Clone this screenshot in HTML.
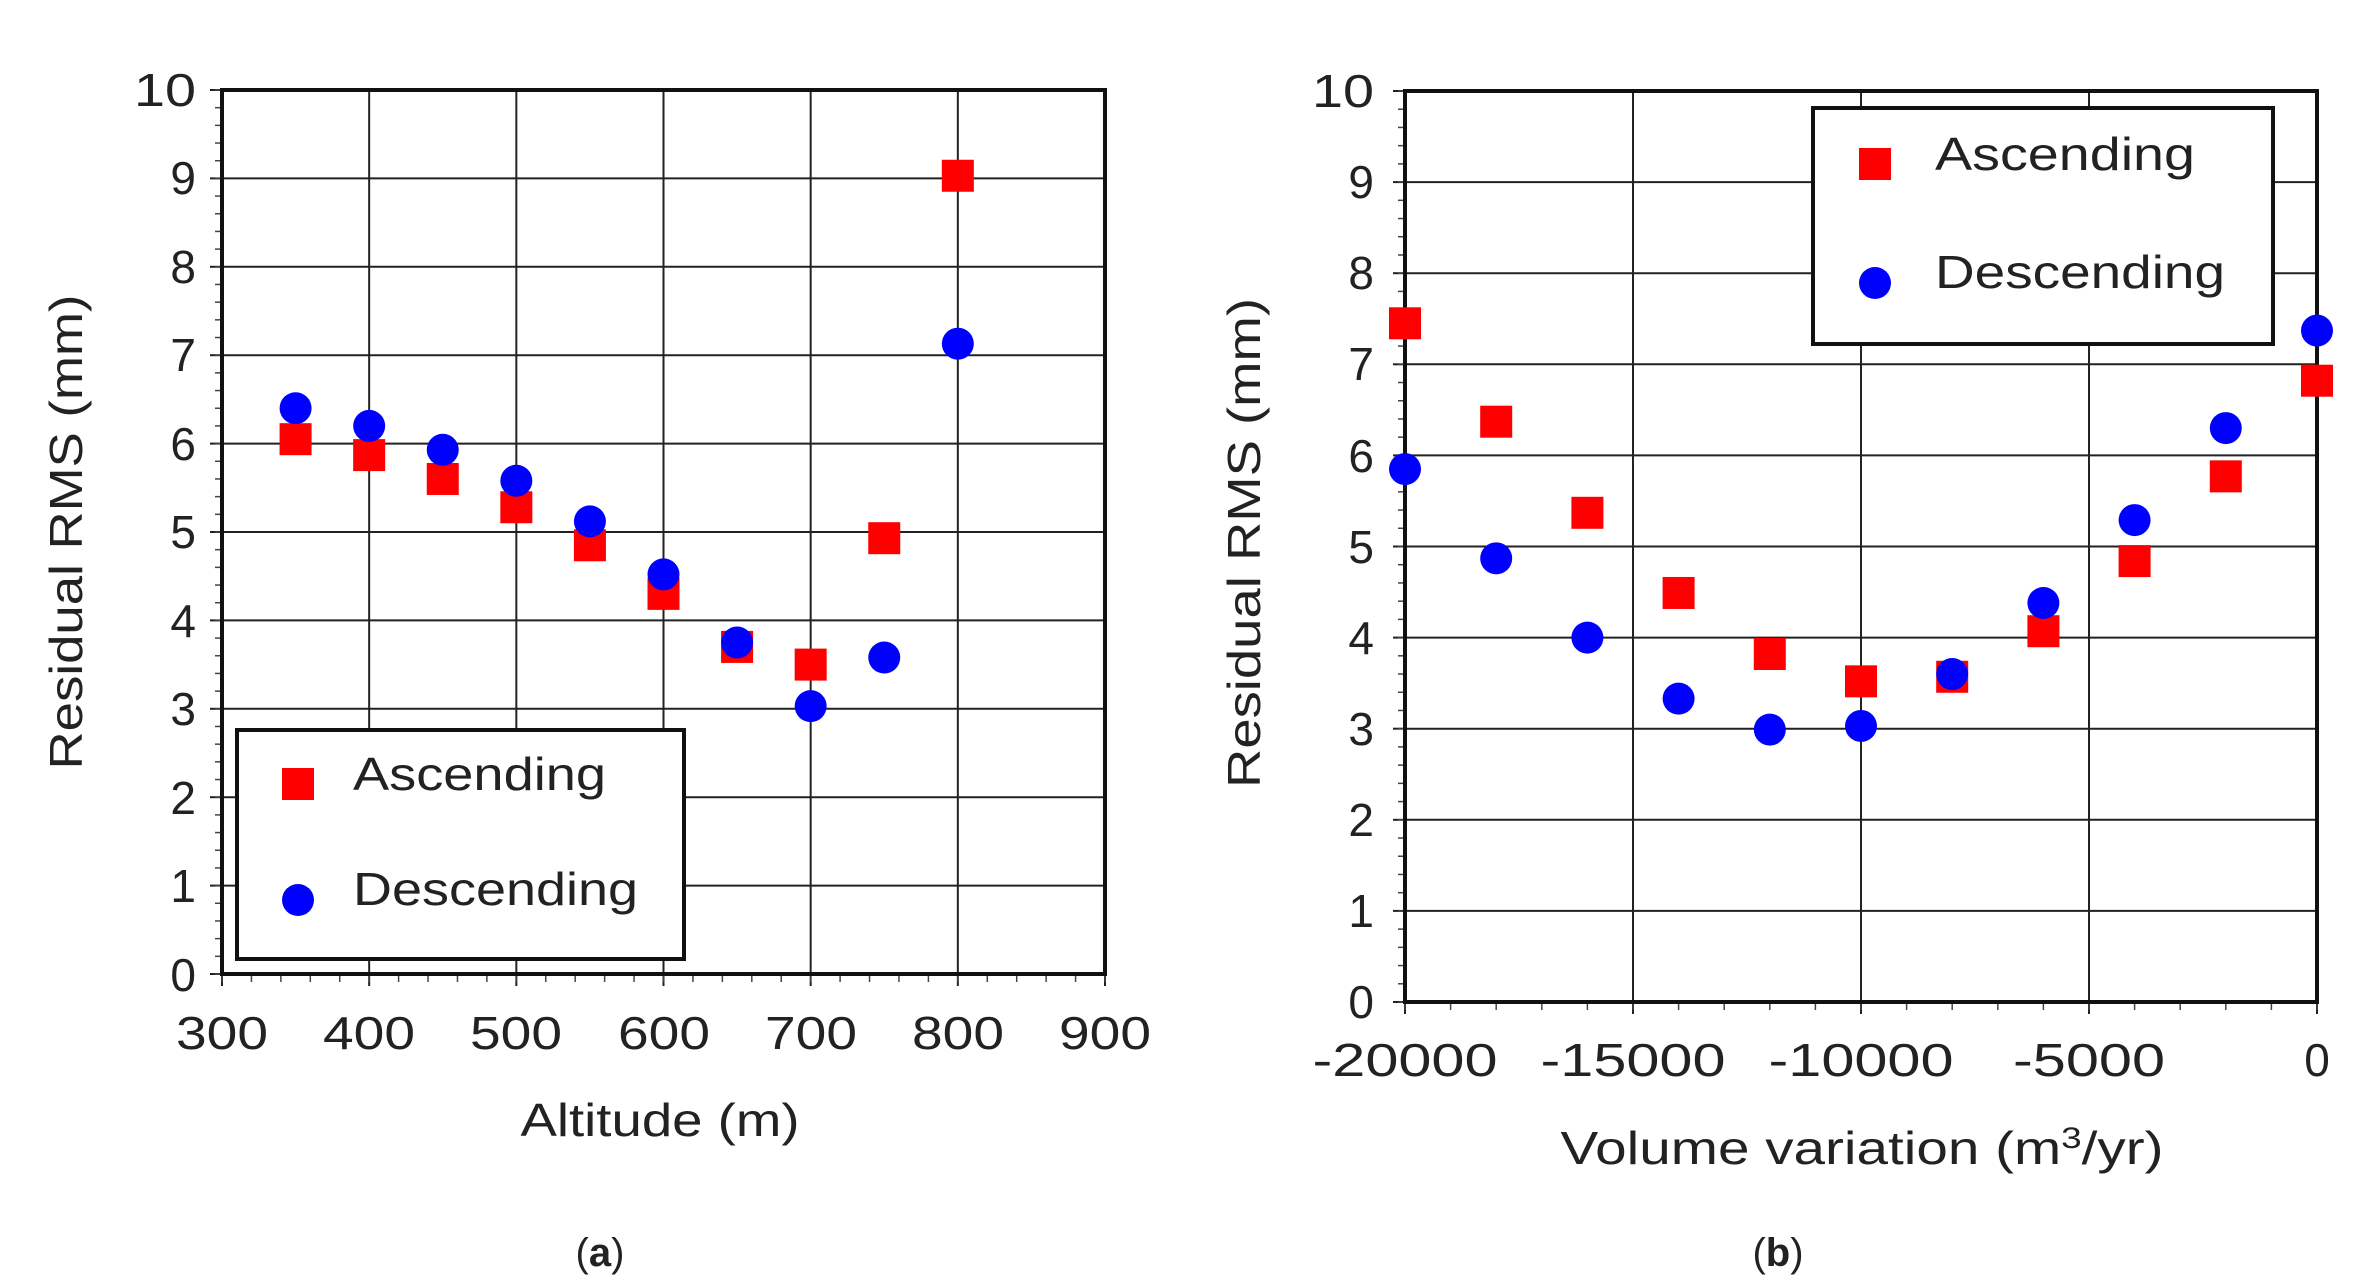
<!DOCTYPE html>
<html><head><meta charset="utf-8"><style>
html,body{margin:0;padding:0;background:#fff}
svg{display:block}
text{font-family:"Liberation Sans","Noto Sans CJK JP",sans-serif;fill:#222}
</style></head><body>
<svg id="s" width="2354" height="1285" viewBox="0 0 2354 1285" xmlns="http://www.w3.org/2000/svg">
<rect width="2354" height="1285" fill="#fff"/>
<g id="ga"></g><g id="gb"></g>
<!-- chart a labels -->
<g font-size="46" text-anchor="end" lengthAdjust="spacingAndGlyphs">
<text x="196" y="106" textLength="62" lengthAdjust="spacingAndGlyphs">10</text><text x="196" y="194">9</text><text x="196" y="283">8</text><text x="196" y="371">7</text><text x="196" y="460">6</text><text x="196" y="548">5</text><text x="196" y="637">4</text><text x="196" y="725">3</text><text x="196" y="814">2</text><text x="196" y="902">1</text><text x="196" y="991">0</text>
</g>
<g font-size="46" text-anchor="middle">
<text x="222" y="1049" textLength="92" lengthAdjust="spacingAndGlyphs">300</text><text x="369" y="1049" textLength="92" lengthAdjust="spacingAndGlyphs">400</text><text x="516" y="1049" textLength="92" lengthAdjust="spacingAndGlyphs">500</text><text x="664" y="1049" textLength="92" lengthAdjust="spacingAndGlyphs">600</text><text x="811" y="1049" textLength="92" lengthAdjust="spacingAndGlyphs">700</text><text x="958" y="1049" textLength="92" lengthAdjust="spacingAndGlyphs">800</text><text x="1105" y="1049" textLength="92" lengthAdjust="spacingAndGlyphs">900</text>
<text x="660" y="1136" textLength="279" lengthAdjust="spacingAndGlyphs">Altitude (m)</text>
<text x="600" y="1266" font-family="Liberation Serif" font-size="40">(<tspan font-weight="bold">a</tspan>)</text>
</g>
<text font-size="46" text-anchor="middle" transform="translate(82,532) rotate(-90)" textLength="475" lengthAdjust="spacingAndGlyphs">Residual RMS (mm)</text>
<!-- chart b labels -->
<g font-size="46" text-anchor="end">
<text x="1374" y="107" textLength="62" lengthAdjust="spacingAndGlyphs">10</text><text x="1374" y="198">9</text><text x="1374" y="289">8</text><text x="1374" y="380">7</text><text x="1374" y="472">6</text><text x="1374" y="563">5</text><text x="1374" y="654">4</text><text x="1374" y="745">3</text><text x="1374" y="836">2</text><text x="1374" y="927">1</text><text x="1374" y="1018">0</text>
</g>
<g font-size="46" text-anchor="middle">
<text x="1405" y="1076" textLength="185" lengthAdjust="spacingAndGlyphs">-20000</text><text x="1633" y="1076" textLength="185" lengthAdjust="spacingAndGlyphs">-15000</text><text x="1861" y="1076" textLength="185" lengthAdjust="spacingAndGlyphs">-10000</text><text x="2089" y="1076" textLength="152" lengthAdjust="spacingAndGlyphs">-5000</text><text x="2317" y="1076">0</text>
<text x="1862" y="1164" textLength="603" lengthAdjust="spacingAndGlyphs">Volume variation (m<tspan font-size="30" dy="-16">3</tspan><tspan dy="16">/yr)</tspan></text>
<text x="1778" y="1266" font-family="Liberation Serif" font-size="40">(<tspan font-weight="bold">b</tspan>)</text>
</g>
<text font-size="46" text-anchor="middle" transform="translate(1260,543) rotate(-90)" textLength="490" lengthAdjust="spacingAndGlyphs">Residual RMS (mm)</text>
<!-- legends -->
<rect x="237" y="730" width="447" height="229" fill="#fff" stroke="#111" stroke-width="4"/>
<rect x="282" y="768" width="32" height="32" fill="#f00"/>
<circle cx="298" cy="900" r="16" fill="#00f"/>
<text x="353" y="790" font-size="46" textLength="253" lengthAdjust="spacingAndGlyphs">Ascending</text>
<text x="353" y="905" font-size="46" textLength="285" lengthAdjust="spacingAndGlyphs">Descending</text>
<rect x="1813" y="108" width="460" height="236" fill="#fff" stroke="#111" stroke-width="4"/>
<rect x="1859" y="148" width="32" height="32" fill="#f00"/>
<circle cx="1875" cy="283" r="16" fill="#00f"/>
<text x="1935" y="170" font-size="46" textLength="260" lengthAdjust="spacingAndGlyphs">Ascending</text>
<text x="1935" y="288" font-size="46" textLength="290" lengthAdjust="spacingAndGlyphs">Descending</text>
</svg>
<script>
var NS="http://www.w3.org/2000/svg";
function el(g,t,a){var e=document.createElementNS(NS,t);for(var k in a)e.setAttribute(k,a[k]);g.appendChild(e);return e;}
function chart(id,L,R,T,B,x0,x1,xmaj,xmin,asc,desc,xs){
 var g=document.getElementById(id);
 var fx=function(v){return L+(v-x0)/(x1-x0)*(R-L)};
 var fy=function(v){return B-v/10*(B-T)};
 for(var v=0;v<=10;v++){el(g,'line',{x1:L,x2:R,y1:fy(v),y2:fy(v),stroke:'#222','stroke-width':2});el(g,'line',{x1:L-12,x2:L,y1:fy(v),y2:fy(v),stroke:'#222','stroke-width':2});}
 for(var v=0;v<=10.001;v+=0.2){el(g,'line',{x1:L-7,x2:L,y1:fy(v),y2:fy(v),stroke:'#444','stroke-width':1.5});}
 for(var v=x0;v<=x1+1e-6;v+=xmaj){el(g,'line',{x1:fx(v),x2:fx(v),y1:T,y2:B+12,stroke:'#222','stroke-width':2});}
 for(var v=x0;v<=x1+1e-6;v+=xmin){el(g,'line',{x1:fx(v),x2:fx(v),y1:B,y2:B+8,stroke:'#444','stroke-width':1.5});}
 el(g,'rect',{x:L,y:T,width:R-L,height:B-T,fill:'none',stroke:'#111','stroke-width':4});
 for(var i=0;i<xs.length;i++){el(g,'rect',{x:fx(xs[i])-16,y:fy(asc[i])-16,width:32,height:32,fill:'#f00'});}
 for(var i=0;i<xs.length;i++){el(g,'circle',{cx:fx(xs[i]),cy:fy(desc[i]),r:16,fill:'#00f'});}
}
chart('ga',222,1105,90,974,300,900,100,20,
 [6.05,5.87,5.6,5.28,4.85,4.3,3.7,3.5,4.93,9.03],
 [6.4,6.2,5.93,5.58,5.12,4.52,3.75,3.03,3.58,7.13],
 [350,400,450,500,550,600,650,700,750,800]);
chart('gb',1405,2317,91,1002,-20000,0,5000,1000,
 [7.45,6.37,5.37,4.49,3.82,3.52,3.57,4.07,4.84,5.77,6.82],
 [5.85,4.87,4.0,3.33,2.99,3.03,3.6,4.38,5.29,6.3,7.37],
 [-20000,-18000,-16000,-14000,-12000,-10000,-8000,-6000,-4000,-2000,0]);
</script>
</body></html>
